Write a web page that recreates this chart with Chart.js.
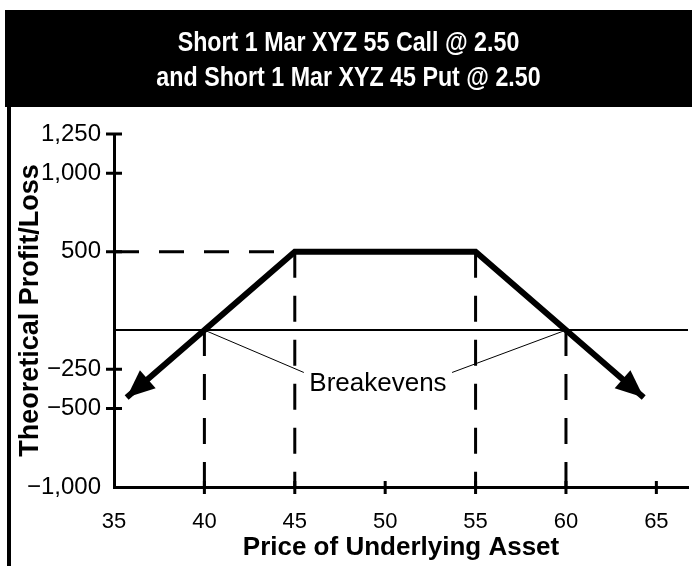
<!DOCTYPE html>
<html>
<head>
    <title>Short Strangle Payoff</title>
    <script src="https://cdn.jsdelivr.net/npm/chart.js"></script>
    <style>
        html, body { margin: 0; padding: 0; background: #fff; }
    </style>
</head>
<body>
    <canvas id="chart" width="692" height="566"></canvas>

    <script>
        // short 55 call + short 45 put, each sold at 2.50
        const titleLines = ['Short 1 Mar XYZ 55 Call @ 2.50', 'and Short 1 Mar XYZ 45 Put @ 2.50'];
        const priceTicks = [35, 40, 45, 50, 55, 60, 65];
        const pnlTicks = [1250, 1000, 500, -250, -500, -1000];

        // payoff path, ends are where the arrowheads sit
        const payoffPrice = [35.7, 45, 55, 64.3];
        const payoffPnl = [-430, 500, 500, -430];

        const strikes = [45, 55];
        const breakevens = [40, 60];
        const maxProfit = 500;

        // "Breakevens" callout
        const calloutText = 'Breakevens';
        const calloutPrice = 49.6;
        const calloutPnl = -340;
        const leaderPrice = [45.5, 53.7];
        const leaderPnl = -270;

        const xMin = 35, xMax = 66.75;
        const yMin = -1000, yMax = 1250;

        const sans = "'Liberation Sans', Arial, sans-serif";

        const pts = (xs, ys) => xs.map((x, i) => ({ x: x, y: ys[i] }));
        const seg = (data, width, dash) => ({
            data: data,
            borderColor: '#000',
            borderWidth: width,
            borderDash: dash || [],
            pointRadius: 0,
            fill: false,
            tension: 0
        });

        const datasets = [
            Object.assign(seg(pts(payoffPrice, payoffPnl), 6), { borderJoinStyle: 'miter' }),
            seg([{ x: xMin, y: 0 }, { x: xMax, y: 0 }], 2),
            seg([{ x: xMin, y: maxProfit }, { x: strikes[0], y: maxProfit }], 3, [25, 20])
        ];
        breakevens.forEach(b => datasets.push(seg([{ x: b, y: 0 }, { x: b, y: yMin }], 3, [26, 18])));
        strikes.forEach(s => datasets.push(seg([{ x: s, y: maxProfit }, { x: s, y: yMin }], 3, [26, 18])));
        datasets.push(seg([{ x: breakevens[0], y: 0 }, { x: leaderPrice[0], y: leaderPnl }], 1));
        datasets.push(seg([{ x: leaderPrice[1], y: leaderPnl }, { x: breakevens[1], y: 0 }], 1));

        function fmtPnl(v) {
            const s = String(Math.abs(v)).replace(/\B(?=(\d{3})+(?!\d))/g, ',');
            return (v < 0 ? '\u2212' : '') + s;
        }

        // black title band, condensed white heading and the left frame rule
        const framePlugin = {
            id: 'frame',
            beforeDraw(chart) {
                const ctx = chart.ctx;
                ctx.save();
                ctx.fillStyle = '#000';
                ctx.fillRect(5, 10, chart.width - 5, 97);
                ctx.fillRect(7, 107, 4, chart.height - 107);

                ctx.fillStyle = '#fff';
                ctx.font = 'bold 28px ' + sans;
                ctx.textAlign = 'center';
                ctx.textBaseline = 'middle';
                const cx = (5 + chart.width) / 2;
                const squeeze = 0.83;
                ctx.scale(squeeze, 1);
                titleLines.forEach((line, i) => {
                    ctx.fillText(line, cx / squeeze, 43 + i * 35);
                });
                ctx.restore();
            }
        };

        function arrowHead(ctx, tip, from, len, half) {
            const a = Math.atan2(tip.y - from.y, tip.x - from.x);
            const bx = tip.x - len * Math.cos(a);
            const by = tip.y - len * Math.sin(a);
            ctx.beginPath();
            ctx.moveTo(tip.x, tip.y);
            ctx.lineTo(bx - half * Math.sin(a), by + half * Math.cos(a));
            ctx.lineTo(bx + half * Math.sin(a), by - half * Math.cos(a));
            ctx.closePath();
            ctx.fill();
        }

        const markPlugin = {
            id: 'marks',
            afterDatasetsDraw(chart) {
                const ctx = chart.ctx;
                const xs = chart.scales.x, ys = chart.scales.y;
                ctx.save();
                ctx.fillStyle = '#000';
                ctx.strokeStyle = '#000';

                // arrowheads on both ends of the payoff line
                const p = chart.getDatasetMeta(0).data;
                arrowHead(ctx, p[0], p[1], 28, 12);
                arrowHead(ctx, p[p.length - 1], p[p.length - 2], 28, 12);

                // tick marks crossing the axes
                ctx.lineWidth = 3;
                ctx.beginPath();
                pnlTicks.filter(v => v !== yMin).forEach(v => {
                    const y = ys.getPixelForValue(v);
                    ctx.moveTo(xs.left - 8, y);
                    ctx.lineTo(xs.left + 8, y);
                });
                priceTicks.filter(v => v !== xMin).forEach(v => {
                    const x = xs.getPixelForValue(v);
                    ctx.moveTo(x, ys.bottom - 6);
                    ctx.lineTo(x, ys.bottom + 7);
                });
                ctx.stroke();

                // callout text
                ctx.font = '26px ' + sans;
                ctx.textAlign = 'center';
                ctx.textBaseline = 'middle';
                ctx.fillText(calloutText, xs.getPixelForValue(calloutPrice), ys.getPixelForValue(calloutPnl));
                ctx.restore();
            }
        };

        new Chart(document.getElementById('chart'), {
            type: 'line',
            data: { datasets: datasets },
            plugins: [framePlugin, markPlugin],
            options: {
                responsive: false,
                animation: false,
                layout: { padding: { top: 134, left: 10, right: 4, bottom: 0 } },
                plugins: {
                    legend: { display: false },
                    tooltip: { enabled: false },
                    title: { display: false }
                },
                scales: {
                    x: {
                        type: 'linear',
                        min: xMin,
                        max: xMax,
                        afterBuildTicks: s => { s.ticks = priceTicks.map(v => ({ value: v })); },
                        afterFit: s => { s.height = 79; },
                        grid: { display: false, drawTicks: false },
                        border: { display: true, color: '#000', width: 3 },
                        ticks: {
                            color: '#000',
                            font: { family: sans, size: 22 },
                            padding: 22,
                            autoSkip: false,
                            maxRotation: 0
                        },
                        title: {
                            display: true,
                            text: 'Price of Underlying Asset',
                            color: '#000',
                            font: { family: sans, size: 26, weight: 'bold' },
                            padding: { top: 0, bottom: 3 }
                        }
                    },
                    y: {
                        type: 'linear',
                        min: yMin,
                        max: yMax,
                        afterBuildTicks: s => { s.ticks = pnlTicks.map(v => ({ value: v })); },
                        afterFit: s => { s.width = 104; },
                        grid: { display: false, drawTicks: false },
                        border: { display: true, color: '#000', width: 3 },
                        ticks: {
                            color: '#000',
                            font: { family: sans, size: 24 },
                            padding: 13,
                            autoSkip: false,
                            callback: v => fmtPnl(v)
                        },
                        title: {
                            display: true,
                            text: 'Theoretical Profit/Loss',
                            color: '#000',
                            font: { family: sans, size: 27, weight: 'bold' },
                            padding: { top: 4, bottom: 0 }
                        }
                    }
                }
            }
        });
    </script>
</body>
</html>
